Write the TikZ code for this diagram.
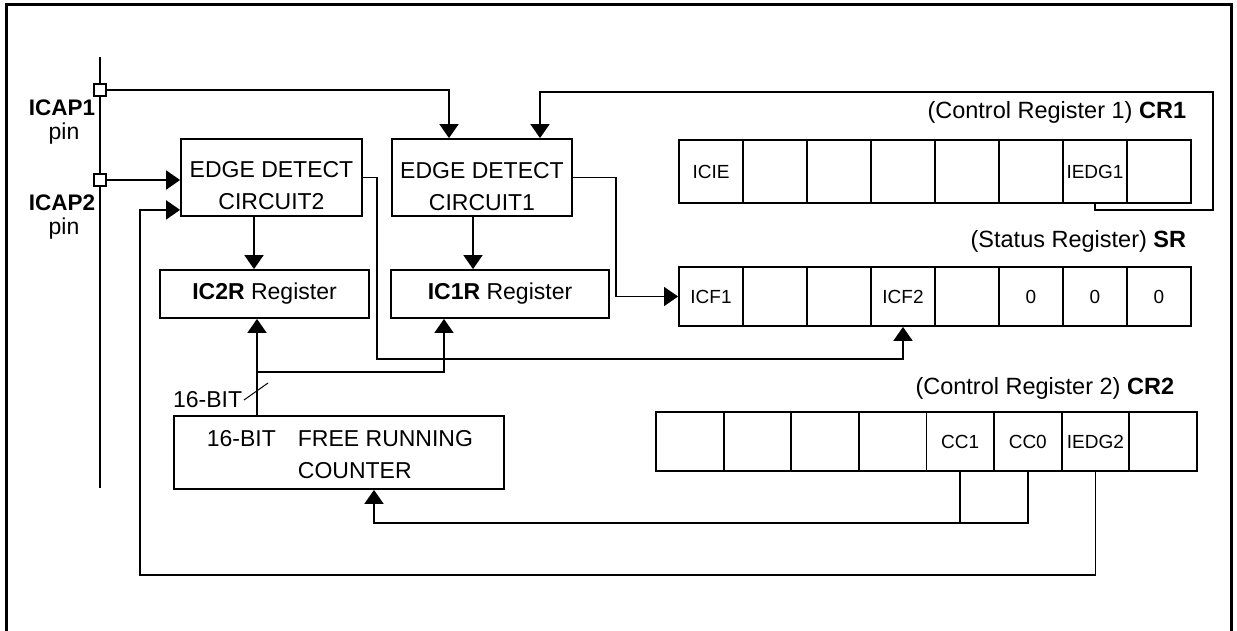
\documentclass[tikz,border=0pt]{standalone}
\usepackage{fontspec}
\setmainfont{Liberation Sans}
\usetikzlibrary{arrows.meta,calc}
\begin{document}
\begin{tikzpicture}[x=1pt,y=-1pt,
  line width=1.8pt,
  arr/.style={-{Triangle[length=14pt,width=19pt]}},
  box/.style={draw,line width=1.8pt,inner sep=0pt},
  cell/.style={draw,line width=1.8pt,inner sep=0pt,font=\fontsize{19}{21}\selectfont},
  pinsq/.style={draw,fill=white,line width=1.6pt,minimum size=12pt,inner sep=0pt},
  lbl/.style={inner sep=0pt,font=\fontsize{23}{32}\selectfont},
  ttl/.style={inner sep=0pt,font=\fontsize{23.5}{28}\selectfont},
  pinlbl/.style={inner sep=0pt,font=\bfseries\fontsize{22.5}{24}\selectfont}
]
\useasboundingbox (0,0) rectangle (1237,630);
% frame
\coordinate (f1) at (6,632);
\coordinate (f2) at (6,4);
\coordinate (f3) at (1231,4);
\coordinate (f4) at (1231,632);
\draw[line width=3pt] (f1) -- (f2) -- (f3) -- (f4);

% pin line and pins
\coordinate (pintop) at (100,57);
\coordinate (pinbot) at (100,488);
\draw (pintop) -- (pinbot);
\node[pinsq] (sq1) at (100,90) {};
\node[pinsq] (sq2) at (100,180) {};
\node[pinlbl] (icap1) at (62,108) {ICAP1};
\node[lbl] (pin1) at (64,134) {pin};
\node[pinlbl] (icap2) at (62,203) {ICAP2};
\node[lbl] (pin2) at (64,229) {pin};

% boxes
\node[box,minimum width=181pt,minimum height=77pt] (ed2) at (271.5,177.5) {};
\node[lbl,align=center] (ed2t) at (271.5,186) {EDGE DETECT\\CIRCUIT2};
\node[box,minimum width=180pt,minimum height=77pt] (ed1) at (482,177.5) {};
\node[lbl,align=center] (ed1t) at (482,187) {EDGE DETECT\\CIRCUIT1};
\node[box,lbl,minimum width=209pt,minimum height=48pt] (ic2r) at (264.5,294) {\textbf{IC2R} Register};
\node[box,lbl,minimum width=218pt,minimum height=48pt] (ic1r) at (500,294) {\textbf{IC1R} Register};
\node[box,minimum width=330pt,minimum height=73pt] (cnt) at (339,452.5) {};
\node[lbl,align=left,anchor=west] (cntt) at (206,455) {16-BIT\hspace{22pt}FREE RUNNING\\\hspace*{91pt}COUNTER};

% registers
\foreach \i/\t in {1/ICIE,2/{},3/{},4/{},5/{},6/{},7/IEDG1,8/{}}
  \node[cell,minimum width=64pt,minimum height=63pt] (cr1-\i) at ({679+(\i-0.5)*64},171.5) {\t};
\foreach \i/\t in {1/ICF1,2/{},3/{},4/ICF2,5/{},6/0,7/0,8/0}
  \node[cell,minimum width=64pt,minimum height=59pt] (sr-\i) at ({679+(\i-0.5)*64},296.5) {\t};
\foreach \i/\t in {1/{},2/{},3/{},4/{},5/CC1,6/CC0,7/IEDG2,8/{}}
  \node[cell,minimum width=67.6pt,minimum height=59pt] (cr2-\i) at ({656+(\i-0.5)*67.6},441.5) {\t};

\node[ttl,anchor=east] (t1) at (1187,112) {(Control Register 1) \textbf{CR1}};
\node[ttl,anchor=east] (t2) at (1187,241) {(Status Register) \textbf{SR}};
\node[ttl,anchor=east] (t3) at (1175,388) {(Control Register 2) \textbf{CR2}};

% connectors
\draw[arr] (sq1.east) -| ([xshift=-33pt]ed1.north);
\draw[arr] (sq2.east) -- (sq2.east -| ed2.west);
\coordinate (lb) at (140,575);
\draw[arr] (cr2-7.south) |- (lb) |- ($(ed2.south west)+(0,-7)$);
\coordinate (c1a) at (1213,210);
\coordinate (c1b) at (1213,92);
\draw[arr] (cr1-7.south) |- (c1a) -- (c1b) -| ([xshift=58pt]ed1.north);
\draw[arr,line width=1.2pt] (ed1.east) -- ++(43,0) |- (sr-1.west);
\coordinate (h2) at (377,359);
\draw[arr] (ed2.east) -| (h2) -| (sr-4.south);
\draw[arr] ([xshift=-17.5pt]ed2.south) -- ([xshift=-10.5pt]ic2r.north);
\draw[arr] ([xshift=-9pt]ed1.south) -- ([xshift=-27pt]ic1r.north);
\coordinate (j) at (257,372);
\draw[arr] (cnt.north -| j) -- (ic2r.south -| j);
\draw[arr] (j) -| ([xshift=-56pt]ic1r.south);
\coordinate (s1) at (244,400);
\coordinate (s2) at (268,383);
\draw[line width=1pt] (s1) -- (s2);
\node[lbl,anchor=east] (bits) at (243,400) {16-BIT};
\coordinate (ccy) at (0,523);
\draw (cr2-5.south) -- (cr2-5.south |- ccy);
\draw[arr] (cr2-6.south) -- (cr2-6.south |- ccy) -| ([xshift=35pt]cnt.south);
\end{tikzpicture}
\end{document}
